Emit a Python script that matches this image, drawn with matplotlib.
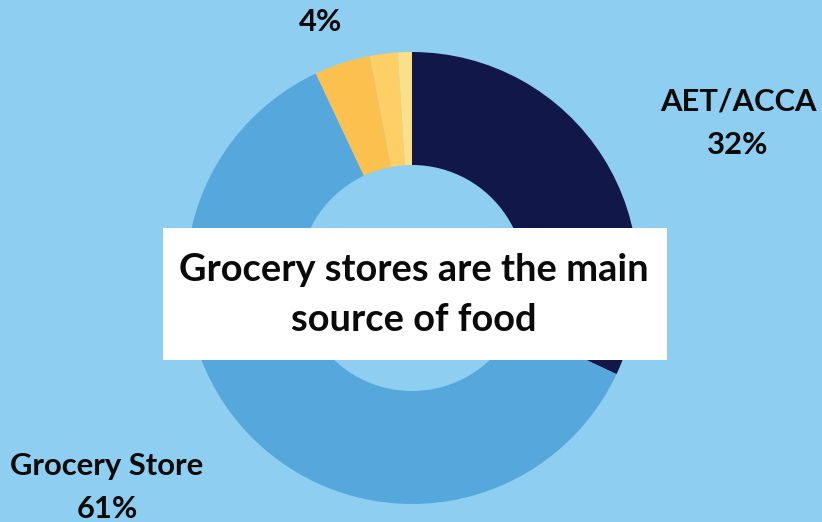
import matplotlib
matplotlib.use("Agg")
import matplotlib.pyplot as plt
from matplotlib.patches import Rectangle

plt.rcParams['font.family'] = ['Lato', 'DejaVu Sans']

# data
sources = ['AET/ACCA', 'Grocery Store', 'Other 1', 'Other 2', 'Other 3']
shares = [32, 61, 4, 2, 1]
colors = ['#12174A', '#56A8DC', '#FCC04F', '#FDCF66', '#FBE08B']
bg = '#8ECFF1'

fig = plt.figure(figsize=(8.22, 5.22), dpi=100, facecolor=bg)
ax = fig.add_axes([0, 0, 1, 1])
ax.set_facecolor(bg)

# pixel-ish coordinates, y going up
ax.pie(shares, colors=colors, startangle=90, counterclock=False,
       center=(412, 244), radius=226,
       wedgeprops=dict(width=113, linewidth=0))
ax.set_xlim(0, 822)
ax.set_ylim(0, 522)
ax.axis('off')

lab = dict(fontsize=22.3, fontweight='bold', ha='center', va='center', color='#0a0a0a')
ax.text(738, 522 - 102, 'AET/ACCA', **lab)
ax.text(738, 522 - 145, f'{shares[0]}%', **lab)
ax.text(107, 522 - 466, 'Grocery Store', **lab)
ax.text(107, 522 - 509, f'{shares[1]}%', **lab)
ax.text(321, 522 - 22, f'{shares[2]}%', **lab)

ax.add_patch(Rectangle((163, 522 - 360), 504, 132, facecolor='white',
                       edgecolor='none', zorder=5))
ax.text(414, 522 - 295, 'Grocery stores are the main\nsource of food',
        fontsize=27.4, fontweight='bold', ha='center', va='center',
        color='#0a0a0a', linespacing=1.6, zorder=6)

fig.savefig('out.png', dpi=100, facecolor=bg)
